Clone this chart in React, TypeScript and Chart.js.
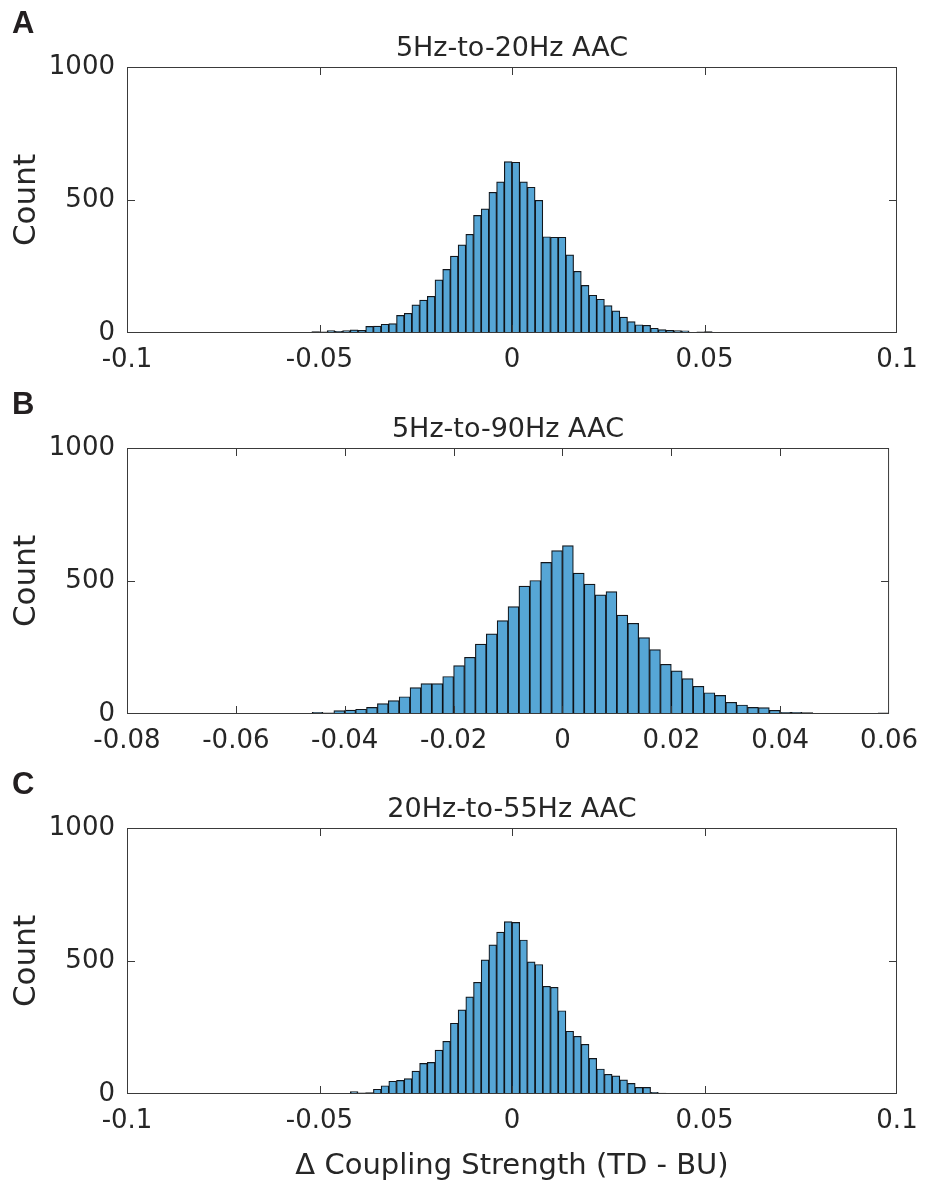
import React, { useEffect, useRef } from 'react';
import { Chart, registerables } from 'chart.js';

Chart.register(...registerables);

// ---- data -------------------------------------------------------------
const BIN_WIDTH = 0.002;

// Panel A: 5Hz-to-20Hz AAC (first bin starts at A_START)
const A_START = -0.056;
const A_COUNTS = [
  1, 0, 5, 4, 9, 6, 9, 12, 10, 25, 26, 33, 35, 66, 74, 106, 124, 138, 200, 239,
  289, 331, 371, 442, 467, 529, 568, 644, 642, 568, 548, 499, 362, 360, 360, 294,
  232, 179, 142, 127, 103, 83, 60, 43, 31, 29, 18, 13, 10, 9, 8, 1, 4, 5, 1, 2,
  0, 0, 0, 0, 0, 0, 1, 0, 0, 0, 0, 0, 0, 0, 1,
];

// Panel B: 5Hz-to-90Hz AAC
const B_START = -0.062;
const B_COUNTS = [
  2, 0, 0, 2, 0, 1, 2, 1, 6, 4, 13, 15, 18, 25, 39, 50, 65, 99, 114, 114, 141,
  182, 213, 263, 301, 351, 404, 481, 502, 570, 614, 633, 530, 488, 448, 460, 372,
  341, 287, 242, 187, 162, 133, 104, 80, 70, 44, 34, 25, 24, 14, 6, 6, 5, 1, 1,
  1, 1, 0, 1, 4,
];

// Panel C: 20Hz-to-55Hz AAC
const C_START = -0.048;
const C_COUNTS = [
  1, 1, 2, 9, 4, 5, 18, 31, 48, 51, 58, 86, 115, 119, 165, 198, 266, 316, 365,
  420, 504, 561, 609, 648, 645, 579, 497, 487, 405, 401, 313, 236, 217, 187, 134,
  94, 74, 68, 53, 40, 25, 25, 6, 3, 1,
];

const Y_TICKS = [0, 500, 1000];
const X_TICKS_WIDE = [-0.1, -0.05, 0, 0.05, 0.1];
const X_TICKS_B = [-0.08, -0.06, -0.04, -0.02, 0, 0.02, 0.04, 0.06];

const TITLES = ['5Hz-to-20Hz AAC', '5Hz-to-90Hz AAC', '20Hz-to-55Hz AAC'];
const LETTERS = ['A', 'B', 'C'];
const Y_LABEL = 'Count';
const X_LABEL = '\u0394 Coupling Strength (TD - BU)';

// ---- styling ----------------------------------------------------------
const FONT = '"DejaVu Sans", "Noto Sans", sans-serif';
const TEXT = '#262626';
const BAR_FILL = 'rgb(86,166,214)';
const BAR_EDGE = 'rgba(5,10,15,0.95)';
const PLOT_TOP = 67;
const PLOT_H = 266;
const PLOT_LEFT = 127;
const PLOT_RIGHT = 897;
const W = 930;

const fmt = (v: number) => String(parseFloat(Number(v).toFixed(4)));

type PanelProps = {
  top: number;
  height: number;
  start: number;
  counts: number[];
  xMin: number;
  xMax: number;
  xTicks: number[];
  title: string;
  letter: string;
  xLabel?: string;
};

function Panel(p: PanelProps) {
  const ref = useRef<HTMLCanvasElement>(null);

  useEffect(() => {
    const points = p.counts.map((c, i) => ({ x: p.start + (i + 0.5) * BIN_WIDTH, y: c }));

    const decor = {
      id: 'decor',
      afterDatasetsDraw(chart: any) {
        const { ctx, chartArea: a, scales } = chart;
        const xs = scales.x;
        const ys = scales.y;
        ctx.save();
        // box
        ctx.strokeStyle = '#3a3a3a';
        ctx.lineWidth = 1;
        ctx.strokeRect(a.left + 0.5, a.top + 0.5, a.right - a.left - 1, a.bottom - a.top - 1);
        // inward ticks
        const TL = 8;
        ctx.beginPath();
        p.xTicks.forEach((v) => {
          const px = Math.round(xs.getPixelForValue(v)) + 0.5;
          if (px <= a.left + 1 || px >= a.right - 1) return;
          ctx.moveTo(px, a.bottom);
          ctx.lineTo(px, a.bottom - TL);
          ctx.moveTo(px, a.top);
          ctx.lineTo(px, a.top + TL);
        });
        Y_TICKS.forEach((v) => {
          const py = Math.round(ys.getPixelForValue(v)) + 0.5;
          if (py <= a.top + 1 || py >= a.bottom - 1) return;
          ctx.moveTo(a.left, py);
          ctx.lineTo(a.left + TL, py);
          ctx.moveTo(a.right, py);
          ctx.lineTo(a.right - TL, py);
        });
        ctx.stroke();

        // title
        ctx.fillStyle = TEXT;
        ctx.font = `27px ${FONT}`;
        ctx.textAlign = 'center';
        ctx.textBaseline = 'alphabetic';
        ctx.fillText(p.title, (a.left + a.right) / 2, a.top - 11);

        // y label
        ctx.save();
        ctx.translate(27, (a.top + a.bottom) / 2);
        ctx.rotate(-Math.PI / 2);
        ctx.font = `31px ${FONT}`;
        ctx.textAlign = 'center';
        ctx.textBaseline = 'middle';
        ctx.fillText(Y_LABEL, 0, 0);
        ctx.restore();

        // x label
        if (p.xLabel) {
          ctx.font = `29px ${FONT}`;
          ctx.textAlign = 'center';
          ctx.textBaseline = 'alphabetic';
          ctx.fillText(p.xLabel, (a.left + a.right) / 2, a.bottom + 80);
        }

        // panel letter
        ctx.fillStyle = '#231f20';
        ctx.font = 'bold 31px "Liberation Sans", Arial, sans-serif';
        ctx.textAlign = 'left';
        ctx.textBaseline = 'alphabetic';
        ctx.fillText(p.letter, 12, a.top - 34);
        ctx.restore();
      },
    };

    const chart = new Chart(ref.current as HTMLCanvasElement, {
      type: 'bar',
      data: {
        datasets: [
          {
            data: points as any,
            backgroundColor: BAR_FILL,
            borderColor: BAR_EDGE,
            borderWidth: 1.2,
            borderSkipped: false,
            barPercentage: 1,
            categoryPercentage: 1,
          },
        ],
      },
      options: {
        animation: false,
        responsive: false,
        devicePixelRatio: 1,
        layout: { padding: { top: PLOT_TOP, left: 0, right: W - PLOT_RIGHT, bottom: 0 } },
        plugins: { legend: { display: false }, tooltip: { enabled: false }, title: { display: false } },
        scales: {
          x: {
            type: 'linear',
            offset: false,
            min: p.xMin,
            max: p.xMax,
            grid: { display: false, drawTicks: false, offset: false },
            border: { display: false },
            afterBuildTicks: (s: any) => {
              s.ticks = p.xTicks.map((v) => ({ value: v }));
            },
            afterFit: (s: any) => {
              s.height = p.height - PLOT_TOP - PLOT_H;
            },
            ticks: {
              padding: 12,
              maxRotation: 0,
              autoSkip: false,
              color: TEXT,
              font: { family: FONT, size: 26 },
              callback: (v: any) => fmt(v),
            },
          },
          y: {
            type: 'linear',
            min: 0,
            max: 1000,
            grid: { display: false, drawTicks: false },
            border: { display: false },
            afterBuildTicks: (s: any) => {
              s.ticks = Y_TICKS.map((v) => ({ value: v }));
            },
            afterFit: (s: any) => {
              s.width = PLOT_LEFT;
            },
            ticks: {
              padding: 12,
              color: TEXT,
              font: { family: FONT, size: 26 },
              callback: (v: any) => fmt(v),
            },
          },
        },
      } as any,
      plugins: [decor],
    });
    return () => chart.destroy();
  }, []);

  return (
    <canvas
      ref={ref}
      width={W}
      height={p.height}
      style={{ position: 'absolute', left: 0, top: p.top, width: W, height: p.height, display: 'block' }}
    />
  );
}

export default function App() {
  return (
    <div style={{ position: 'absolute', left: 0, top: 0, width: W, height: 1185, background: '#fff' }}>
      <Panel top={0} height={380} start={A_START} counts={A_COUNTS} xMin={-0.1} xMax={0.1}
        xTicks={X_TICKS_WIDE} title={TITLES[0]} letter={LETTERS[0]} />
      <Panel top={381} height={380} start={B_START} counts={B_COUNTS} xMin={-0.08} xMax={0.06}
        xTicks={X_TICKS_B} title={TITLES[1]} letter={LETTERS[1]} />
      <Panel top={761} height={424} start={C_START} counts={C_COUNTS} xMin={-0.1} xMax={0.1}
        xTicks={X_TICKS_WIDE} title={TITLES[2]} letter={LETTERS[2]} xLabel={X_LABEL} />
    </div>
  );
}
